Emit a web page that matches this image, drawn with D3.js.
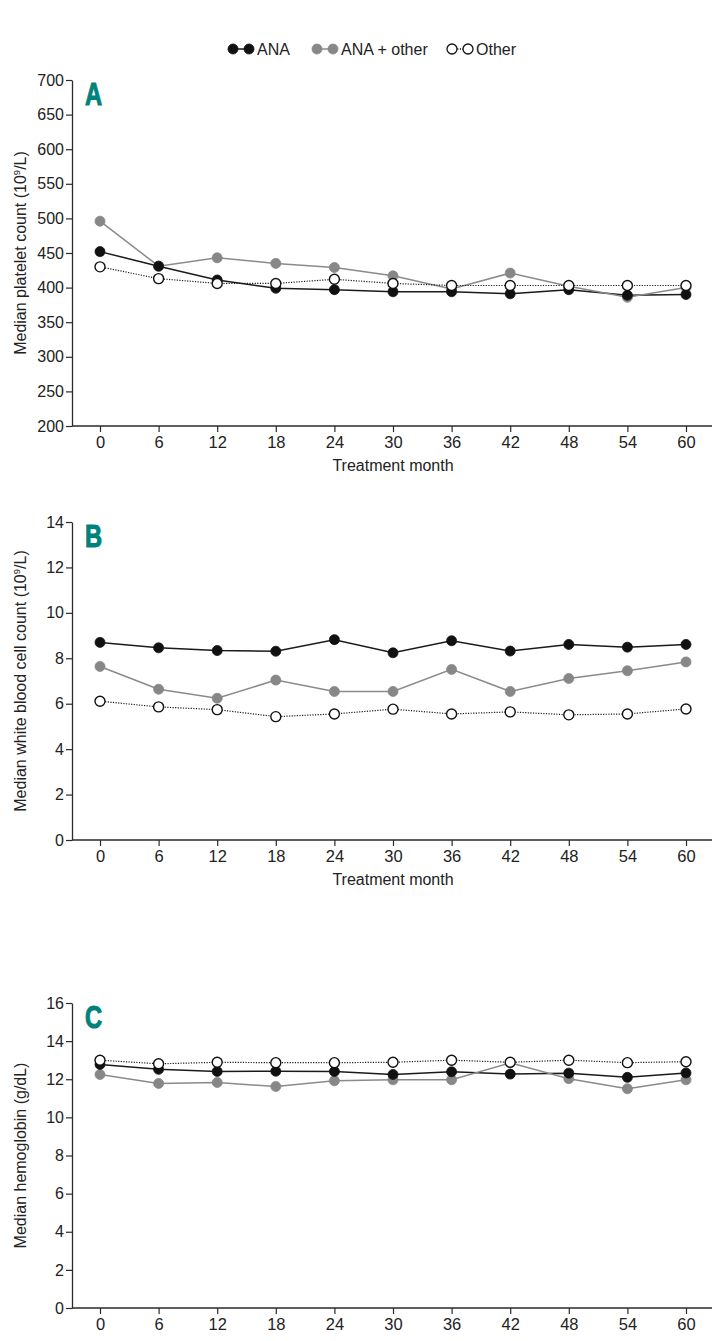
<!DOCTYPE html>
<html><head><meta charset="utf-8">
<script src="https://cdn.jsdelivr.net/npm/d3@7"></script>
<style>
body{margin:0;background:#fff;}
svg{display:block;}
</style></head>
<body>
<svg id="chart" width="722" height="1341"></svg>
<script>
const months = [0,6,12,18,24,30,36,42,48,54,60];
const seriesNames = ["ANA","ANA + other","Other"];

const plateletANA   = [452,431,411,399,397,394,394,391,397,389,390];
const plateletMix   = [496,431,443,435,429,417,398,421,402,386,400];
const plateletOther = [430,413,406,406,412,406,403,403,403,403,403];

const wbcANA   = [8.70,8.46,8.34,8.31,8.82,8.24,8.77,8.32,8.61,8.49,8.61];
const wbcMix   = [7.64,6.64,6.24,7.04,6.54,6.54,7.51,6.54,7.11,7.45,7.84];
const wbcOther = [6.11,5.86,5.74,5.43,5.55,5.76,5.55,5.64,5.51,5.55,5.77];

const hbANA   = [12.78,12.52,12.41,12.42,12.41,12.25,12.39,12.27,12.32,12.10,12.33];
const hbMix   = [12.25,11.78,11.83,11.62,11.92,11.97,11.97,12.86,12.03,11.50,11.97];
const hbOther = [13.00,12.81,12.89,12.87,12.87,12.89,13.00,12.89,13.00,12.87,12.92];

const plateletTicks = [200,250,300,350,400,450,500,550,600,650,700];
const wbcTicks = [0,2,4,6,8,10,12,14];
const hbTicks = [0,2,4,6,8,10,12,14,16];

const svg = d3.select("#chart");
const baseFont = "'Liberation Sans', Arial, Helvetica, sans-serif";
const axisColor = "#2a2a2a";

const styles = [
  {line:"#1a1a1a", width:1.5, dash:null, fill:"#111", stroke:"#111"},
  {line:"#8a8a8a", width:1.5, dash:null, fill:"#878787", stroke:"#878787"},
  {line:"#1a1a1a", width:1.2, dash:"1.2,1.4", fill:"#fff", stroke:"#111"}
];

const x = d3.scaleLinear().domain([0,60]).range([100,686]);

function panel(cfg){
  const y = d3.scaleLinear().domain([cfg.ticks[0], cfg.ticks[cfg.ticks.length-1]]).range([cfg.bottom, cfg.top]);
  const g = svg.append("g");

  const ya = g.append("g").attr("transform","translate(72,0)")
    .call(d3.axisLeft(y).tickValues(cfg.ticks).tickSize(6).tickPadding(2).tickSizeOuter(0));
  ya.select(".domain").attr("stroke",axisColor).attr("stroke-width",1.3);
  ya.selectAll(".tick line").attr("stroke",axisColor).attr("stroke-width",1.2);
  ya.selectAll(".tick text").attr("fill","#222").style("font-family",baseFont).style("font-size","16px");

  const xa = g.append("g").attr("transform",`translate(0,${cfg.bottom})`)
    .call(d3.axisBottom(x).tickValues(months).tickSize(6).tickPadding(4).tickSizeOuter(0));
  xa.select(".domain").attr("d",`M72,0H712`).attr("stroke",axisColor).attr("stroke-width",1.3);
  xa.selectAll(".tick line").attr("stroke",axisColor).attr("stroke-width",1.2);
  xa.selectAll(".tick text").attr("fill","#222").style("font-family",baseFont).style("font-size","16.5px");

  if(cfg.xTitle){
    g.append("text").attr("x",(100+686)/2).attr("y",cfg.bottom+45)
      .attr("text-anchor","middle").style("font-family",baseFont).style("font-size","16px").attr("fill","#222")
      .text("Treatment month");
  }

  const yt = g.append("text")
    .attr("transform",`translate(26,${(cfg.top+cfg.bottom)/2}) rotate(-90)`)
    .attr("text-anchor","middle")
    .style("font-family",baseFont).style("font-size","16px").attr("fill","#222");
  yt.append("tspan").text(cfg.yTitle[0]);
  if(cfg.yTitle.length>1){
    yt.append("tspan").attr("dy","-6").style("font-size","9.5px").text(cfg.yTitle[1]);
    yt.append("tspan").attr("dy","6").text(cfg.yTitle[2]);
  }

  g.append("text").attr("transform",`translate(85,${cfg.top+25}) scale(0.74,1)`)
    .style("font-family",baseFont)
    .style("font-weight","bold").style("font-size","32px").attr("fill","#00827c")
    .attr("stroke","#00827c").attr("stroke-width",1.1)
    .text(cfg.letter);

  const line = d3.line().x((d,i)=>x(months[i])).y(d=>y(d));
  cfg.data.forEach((vals,si)=>{
    const st = styles[si];
    g.append("path").datum(vals).attr("d",line).attr("fill","none")
      .attr("stroke",st.line).attr("stroke-width",st.width)
      .attr("stroke-dasharray",st.dash);
  });
  [1,0,2].forEach(si=>{
    const st = styles[si];
    g.append("g").selectAll("circle").data(cfg.data[si]).join("circle")
      .attr("cx",(d,i)=>x(months[i])).attr("cy",d=>y(d)).attr("r",5)
      .attr("fill",st.fill).attr("stroke",st.stroke).attr("stroke-width",si===2?1.4:0.8);
  });
}

panel({top:80,bottom:426,ticks:plateletTicks,letter:"A",xTitle:true,
  yTitle:["Median platelet count (10","9","/L)"],
  data:[plateletANA,plateletMix,plateletOther]});
panel({top:522,bottom:840,ticks:wbcTicks,letter:"B",xTitle:true,
  yTitle:["Median white blood cell count (10","9","/L)"],
  data:[wbcANA,wbcMix,wbcOther]});
panel({top:1003,bottom:1308,ticks:hbTicks,letter:"C",xTitle:false,
  yTitle:["Median hemoglobin (g/dL)"],
  data:[hbANA,hbMix,hbOther]});

const legendX = [233,317,452];
const lg = svg.append("g");
seriesNames.forEach((name,i)=>{
  const st = styles[i];
  const x0 = legendX[i];
  lg.append("line").attr("x1",x0).attr("x2",x0+16).attr("y1",49).attr("y2",49)
    .attr("stroke",st.line).attr("stroke-width",1.5).attr("stroke-dasharray",st.dash);
  [x0,x0+16].forEach(cx=>{
    lg.append("circle").attr("cx",cx).attr("cy",49).attr("r",5)
      .attr("fill",st.fill).attr("stroke",st.stroke).attr("stroke-width",i===2?1.3:0.8);
  });
  lg.append("text").attr("x",x0+24).attr("y",55)
    .style("font-family",baseFont).style("font-size","16px").attr("fill","#222")
    .text(name);
});
</script>
</body></html>
